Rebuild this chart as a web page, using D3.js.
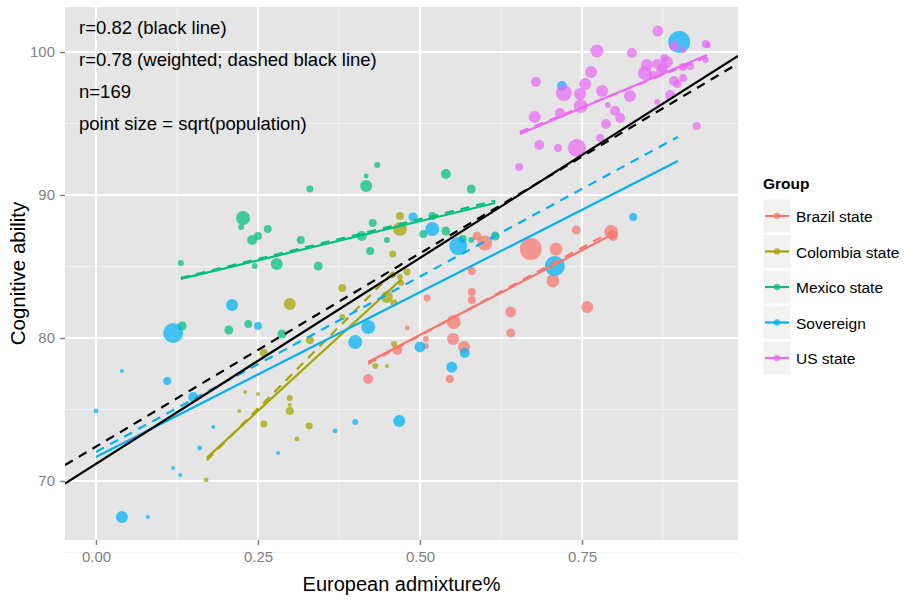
<!DOCTYPE html>
<html>
<head>
<meta charset="utf-8">
<script src="https://cdn.jsdelivr.net/npm/d3@7"></script>
<style>
  html, body { margin: 0; padding: 0; background: #fff; }
  svg { display: block; font-family: "Liberation Sans", Arial, sans-serif; }
</style>
</head>
<body>
<svg id="chart" width="912" height="600"></svg>
<script>
// Groups and their colours
const groups = ["Brazil state", "Colombia state", "Mexico state", "Sovereign", "US state"];
const groupColors = ["#F8766D", "#A3A500", "#00BF7D", "#00B0F6", "#E76BF3"];

// Points: European admixture (x), cognitive ability (y), sqrt(population) size
const brazilX = [0.588,0.600,0.580,0.580,0.580,0.511,0.480,0.552,0.551,0.568,0.509,0.509,0.640,0.640,0.671,0.710,0.705,0.741,0.795,0.798,0.758,0.546,0.465,0.420];
const brazilY = [87.13,86.64,84.69,83.22,82.66,82.80,80.70,81.12,79.93,79.37,79.93,79.44,81.82,80.35,86.22,86.22,83.99,87.55,87.41,87.13,82.17,77.13,79.16,77.13];
const brazilS = [20,56,16,16,16,12,6,49,36,36,9,9,30,20,121,42,42,20,49,25,36,16,25,25];

const colombiaX = [0.469,0.469,0.458,0.380,0.299,0.449,0.460,0.458,0.469,0.480,0.471,0.330,0.380,0.460,0.431,0.449,0.259,0.230,0.250,0.221,0.299,0.299,0.299,0.259,0.329,0.310,0.170];
const colombiaY = [88.53,87.62,85.87,83.50,82.38,82.87,82.45,84.41,84.27,84.62,83.85,79.86,81.47,79.58,78.04,78.04,78.95,76.22,76.08,74.90,75.80,75.31,74.90,73.99,73.85,72.94,70.07];
const colombiaS = [16,49,12,16,36,36,12,9,9,12,9,16,9,9,9,4,16,4,4,4,9,4,16,12,12,6,6];

const mexicoX = [0.330,0.417,0.417,0.434,0.540,0.579,0.227,0.224,0.241,0.250,0.265,0.316,0.427,0.410,0.449,0.423,0.343,0.279,0.245,0.131,0.133,0.205,0.235,0.287,0.505,0.519,0.540,0.566,0.579,0.616];
const mexicoY = [90.42,90.63,91.33,92.10,91.47,90.42,88.39,87.76,86.85,87.13,87.62,86.85,88.04,87.13,86.85,86.08,85.03,85.17,85.03,85.24,80.84,80.56,80.98,80.28,87.27,88.53,87.48,86.92,86.85,87.13];
const mexicoS = [12,36,6,9,25,20,49,9,25,16,16,16,16,25,9,16,20,36,9,9,20,20,16,20,16,16,20,16,9,20];

const sovereignX = [0.900,0.719,0.489,0.519,0.559,0.708,0.829,0.500,0.569,0.549,0.420,0.400,0.468,0.119,0.210,0.250,0.040,0.000,0.110,0.150,0.181,0.160,0.119,0.130,0.040,0.080,0.281,0.369,0.400];
const sovereignY = [100.70,97.62,88.46,87.62,86.43,85.03,88.46,79.37,78.95,77.97,80.77,79.72,74.20,80.35,82.31,80.84,77.69,74.90,76.99,75.87,73.78,72.31,70.91,70.42,67.48,67.48,71.96,73.50,74.13];
const sovereignS = [121,25,20,49,81,100,16,30,25,30,49,49,36,100,36,16,4,6,16,25,4,6,4,4,36,4,4,6,9];

const usX = [0.867,0.773,0.827,0.941,0.944,0.892,0.906,0.941,0.679,0.722,0.764,0.755,0.747,0.748,0.781,0.824,0.790,0.801,0.809,0.787,0.677,0.716,0.778,0.742,0.684,0.713,0.653,0.850,0.847,0.866,0.877,0.881,0.875,0.860,0.906,0.917,0.906,0.892,0.897,0.886,0.866,0.927,0.872];
const usY = [101.47,100.07,99.93,100.56,100.50,100.42,100.14,99.44,97.90,97.13,98.60,97.76,97.06,96.22,97.27,96.92,96.29,95.87,95.38,94.97,95.45,95.73,93.99,93.29,93.50,93.29,91.96,99.09,98.53,99.16,99.58,99.30,98.88,98.39,98.95,99.02,98.18,97.97,97.76,96.99,96.50,94.83,98.67];
const usS = [30,42,25,16,9,25,9,9,25,64,36,36,36,49,36,36,9,25,25,25,36,25,16,81,25,16,16,36,49,25,16,36,25,16,16,16,16,25,16,25,9,16,25];

// Regression fits per group: x range and fitted y at both ends (solid = OLS, dashed = weighted)
const fitX0 = [0.420, 0.171, 0.131, 0.000, 0.654];
const fitX1 = [0.798, 0.471, 0.616, 0.898, 0.943];
const fitSolidY0 = [78.32, 71.61, 84.13, 71.68, 94.27];
const fitSolidY1 = [87.27, 84.09, 89.44, 92.38, 99.79];
const fitDashY0 = [78.20, 71.45, 84.20, 72.03, 94.40];
const fitDashY1 = [87.50, 85.17, 89.60, 94.06, 99.65];

// Overall fits (intercept, slope)
const overallSolid = [71.2, 28.8];
const overallDashed = [72.4, 27.05];

// Axis ticks and annotation
const xTicks = [0, 0.25, 0.5, 0.75];
const xMinor = [0.125, 0.375, 0.625, 0.875];
const yTicks = [70, 80, 90, 100];
const yMinor = [65, 75, 85, 95];
const notes = ["r=0.82 (black line)", "r=0.78 (weighted; dashed black line)", "n=169", "point size = sqrt(population)"];

const pointSets = [
  [brazilX, brazilY, brazilS],
  [colombiaX, colombiaY, colombiaS],
  [mexicoX, mexicoY, mexicoS],
  [sovereignX, sovereignY, sovereignS],
  [usX, usY, usS]
];

const svg = d3.select("#chart");
const panel = { left: 65, right: 738, top: 7, bottom: 540 };

const x = d3.scaleLinear().domain([-0.0478, 0.9907]).range([panel.left, panel.right]);
const y = d3.scaleLinear().domain([65.87, 103.15]).range([panel.bottom, panel.top]);
const r = d3.scaleSqrt().domain([0, 121]).range([0, 11]);
const color = d3.scaleOrdinal().domain(groups).range(groupColors);

// Panel background and grid
svg.append("rect")
  .attr("x", panel.left).attr("y", panel.top)
  .attr("width", panel.right - panel.left).attr("height", panel.bottom - panel.top)
  .attr("fill", "#E5E5E5");

const grid = svg.append("g");
grid.selectAll(".xminor").data(xMinor).join("line")
  .attr("x1", d => x(d)).attr("x2", d => x(d))
  .attr("y1", panel.top).attr("y2", panel.bottom)
  .attr("stroke", "#F2F2F2").attr("stroke-width", 1);
grid.selectAll(".yminor").data(yMinor).join("line")
  .attr("y1", d => y(d)).attr("y2", d => y(d))
  .attr("x1", panel.left).attr("x2", panel.right)
  .attr("stroke", "#F2F2F2").attr("stroke-width", 1);
grid.selectAll(".xmajor").data(xTicks).join("line")
  .attr("x1", d => x(d)).attr("x2", d => x(d))
  .attr("y1", panel.top).attr("y2", panel.bottom)
  .attr("stroke", "#FFFFFF").attr("stroke-width", 2);
grid.selectAll(".ymajor").data(yTicks).join("line")
  .attr("y1", d => y(d)).attr("y2", d => y(d))
  .attr("x1", panel.left).attr("x2", panel.right)
  .attr("stroke", "#FFFFFF").attr("stroke-width", 2);

// Axes
const xAxis = svg.append("g")
  .attr("transform", `translate(0,${panel.bottom})`)
  .call(d3.axisBottom(x).tickValues(xTicks).tickFormat(d3.format(".2f")).tickSize(5).tickPadding(6));
const yAxis = svg.append("g")
  .attr("transform", `translate(${panel.left},0)`)
  .call(d3.axisLeft(y).tickValues(yTicks).tickFormat(d3.format("d")).tickSize(5).tickPadding(5));
[xAxis, yAxis].forEach(a => {
  a.select(".domain").remove();
  a.selectAll(".tick line").attr("stroke", "#7F7F7F").attr("stroke-width", 1.5);
  a.selectAll(".tick text").attr("fill", "#7F7F7F").style("font-size", "15px")
    .style("font-family", "'Liberation Sans', Arial, sans-serif");
});

// Points
svg.append("clipPath").attr("id", "panelClip")
  .append("rect")
  .attr("x", panel.left).attr("y", panel.top)
  .attr("width", panel.right - panel.left).attr("height", panel.bottom - panel.top);

const pts = svg.append("g").attr("clip-path", "url(#panelClip)");
pointSets.forEach(([xs, ys, ss], gi) => {
  const rows = xs.map((v, i) => ({ x: v, y: ys[i], s: ss[i] }));
  pts.append("g").selectAll("circle").data(rows).join("circle")
    .attr("cx", d => x(d.x)).attr("cy", d => y(d.y)).attr("r", d => r(d.s))
    .attr("fill", color(groups[gi])).attr("fill-opacity", 0.72);
});

// Group regression lines
const lines = svg.append("g").attr("clip-path", "url(#panelClip)");
groups.forEach((g, gi) => {
  lines.append("line")
    .attr("x1", x(fitX0[gi])).attr("y1", y(fitSolidY0[gi]))
    .attr("x2", x(fitX1[gi])).attr("y2", y(fitSolidY1[gi]))
    .attr("stroke", color(g)).attr("stroke-width", 2.2);
  lines.append("line")
    .attr("x1", x(fitX0[gi])).attr("y1", y(fitDashY0[gi]))
    .attr("x2", x(fitX1[gi])).attr("y2", y(fitDashY1[gi]))
    .attr("stroke", color(g)).attr("stroke-width", 2.2)
    .attr("stroke-dasharray", "9,7");
});

// Overall lines across the full panel
const [xd0, xd1] = x.domain();
lines.append("line")
  .attr("x1", x(xd0)).attr("y1", y(overallSolid[0] + overallSolid[1] * xd0))
  .attr("x2", x(xd1)).attr("y2", y(overallSolid[0] + overallSolid[1] * xd1))
  .attr("stroke", "#000").attr("stroke-width", 2.2);
lines.append("line")
  .attr("x1", x(xd0)).attr("y1", y(overallDashed[0] + overallDashed[1] * xd0))
  .attr("x2", x(xd1)).attr("y2", y(overallDashed[0] + overallDashed[1] * xd1))
  .attr("stroke", "#000").attr("stroke-width", 2.2)
  .attr("stroke-dasharray", "9,7");

// Annotation
svg.append("g").selectAll("text").data(notes).join("text")
  .attr("x", 79).attr("y", (d, i) => 34 + i * 32)
  .attr("fill", "#000").style("font-size", "18.5px")
  .text(d => d);

// Axis titles
svg.append("text")
  .attr("x", (panel.left + panel.right) / 2).attr("y", 591)
  .attr("text-anchor", "middle").style("font-size", "20px").attr("fill", "#000")
  .text("European admixture%");
svg.append("text")
  .attr("transform", `translate(25,${(panel.top + panel.bottom) / 2}) rotate(-90)`)
  .attr("text-anchor", "middle").style("font-size", "20.5px").attr("fill", "#000")
  .text("Cognitive ability");

// Legend
const legend = svg.append("g").attr("transform", "translate(763,0)");
legend.append("text").attr("x", 0).attr("y", 189)
  .style("font-size", "15.5px").style("font-weight", "bold").text("Group");
const keys = legend.selectAll(".key").data(groups).join("g")
  .attr("transform", (d, i) => `translate(0,${216 + i * 35.5})`);
keys.append("rect").attr("x", 0).attr("y", -17).attr("width", 28).attr("height", 34)
  .attr("fill", "#F2F2F2").attr("stroke", "#fff").attr("stroke-width", 1);
keys.append("line").attr("x1", 2).attr("x2", 26).attr("y1", 0).attr("y2", 0)
  .attr("stroke", d => color(d)).attr("stroke-width", 2.2);
keys.append("circle").attr("cx", 14).attr("cy", 0).attr("r", 3.2)
  .attr("fill", d => color(d)).attr("fill-opacity", 0.72);
keys.append("text").attr("x", 33).attr("y", 6).style("font-size", "15.5px").text(d => d);
</script>
</body>
</html>
